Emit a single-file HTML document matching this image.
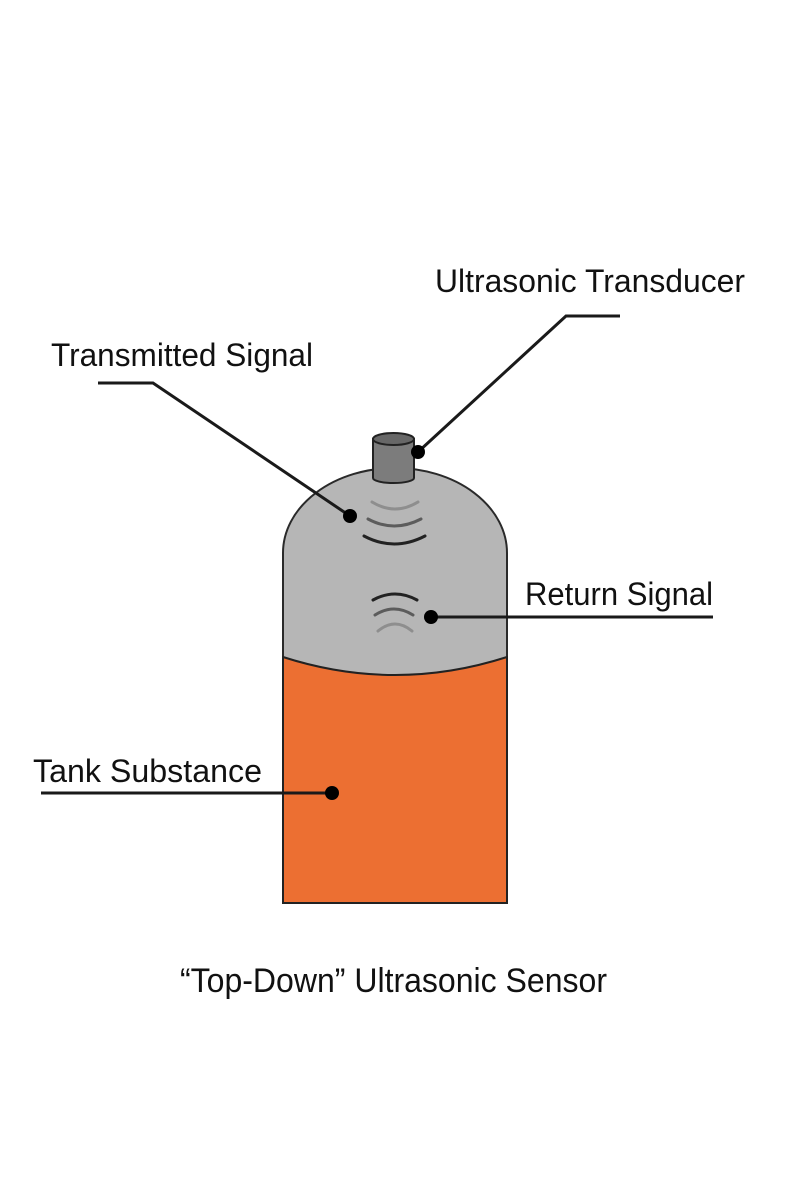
<!DOCTYPE html>
<html>
<head>
<meta charset="utf-8">
<style>
  html, body { margin: 0; padding: 0; background: #ffffff; }
  svg { display: block; }
  text { font-family: "Liberation Sans", "DejaVu Sans", sans-serif; fill: #111; }
</style>
</head>
<body>
<svg width="787" height="1200" viewBox="0 0 787 1200" xmlns="http://www.w3.org/2000/svg">
  <rect x="0" y="0" width="787" height="1200" fill="#ffffff"/>

  <!-- Tank body (gray with dome) -->
  <path d="M283,903 V553 A112,85 0 0 1 507,553 V903 Z" fill="#b6b6b6" stroke="#2a2a2a" stroke-width="2"/>
  <!-- Liquid -->
  <path d="M283,657 Q395,693 507,657 V903 H283 Z" fill="#ec6f32" stroke="#222" stroke-width="2" stroke-linejoin="miter"/>

  <!-- Transducer -->
  <path d="M373,439 V478 A20.5,5 0 0 0 414,478 V439 Z" fill="#7c7c7c" stroke="#222" stroke-width="2"/>
  <ellipse cx="393.5" cy="439" rx="20.5" ry="6" fill="#676767" stroke="#222" stroke-width="2"/>

  <!-- Transmitted waves -->
  <path d="M372,502 Q395,516 418,502" fill="none" stroke="#8e8e8e" stroke-width="3" stroke-linecap="round"/>
  <path d="M368,519 Q394,533 421,519" fill="none" stroke="#5c5c5c" stroke-width="3" stroke-linecap="round"/>
  <path d="M364,536 Q394,552 425,536" fill="none" stroke="#222" stroke-width="3" stroke-linecap="round"/>

  <!-- Return waves -->
  <path d="M373,600 Q395,588 417,600" fill="none" stroke="#222" stroke-width="3" stroke-linecap="round"/>
  <path d="M375,615 Q394,603 413,615" fill="none" stroke="#5c5c5c" stroke-width="3" stroke-linecap="round"/>
  <path d="M378,631 Q395,617 412,631" fill="none" stroke="#8e8e8e" stroke-width="3" stroke-linecap="round"/>

  <!-- Leader lines -->
  <g fill="none" stroke="#1a1a1a" stroke-width="3" stroke-linejoin="miter">
    <path d="M98,383 H153 L350,516"/>
    <path d="M620,316 H566 L418,452"/>
    <path d="M431,617 H713"/>
    <path d="M41,793 H332"/>
  </g>
  <g fill="#000">
    <circle cx="350" cy="516" r="7"/>
    <circle cx="418" cy="452" r="7"/>
    <circle cx="431" cy="617" r="7"/>
    <circle cx="332" cy="793" r="7"/>
  </g>

  <!-- Labels -->
  <text x="435" y="292" font-size="32" textLength="310" lengthAdjust="spacingAndGlyphs">Ultrasonic Transducer</text>
  <text x="51" y="366" font-size="32" textLength="262" lengthAdjust="spacingAndGlyphs">Transmitted Signal</text>
  <text x="525" y="605" font-size="32" textLength="188" lengthAdjust="spacingAndGlyphs">Return Signal</text>
  <text x="33" y="782" font-size="32" textLength="229" lengthAdjust="spacingAndGlyphs">Tank Substance</text>
  <text x="180" y="992" font-size="34" textLength="427" lengthAdjust="spacingAndGlyphs">“Top-Down” Ultrasonic Sensor</text>
</svg>
</body>
</html>
